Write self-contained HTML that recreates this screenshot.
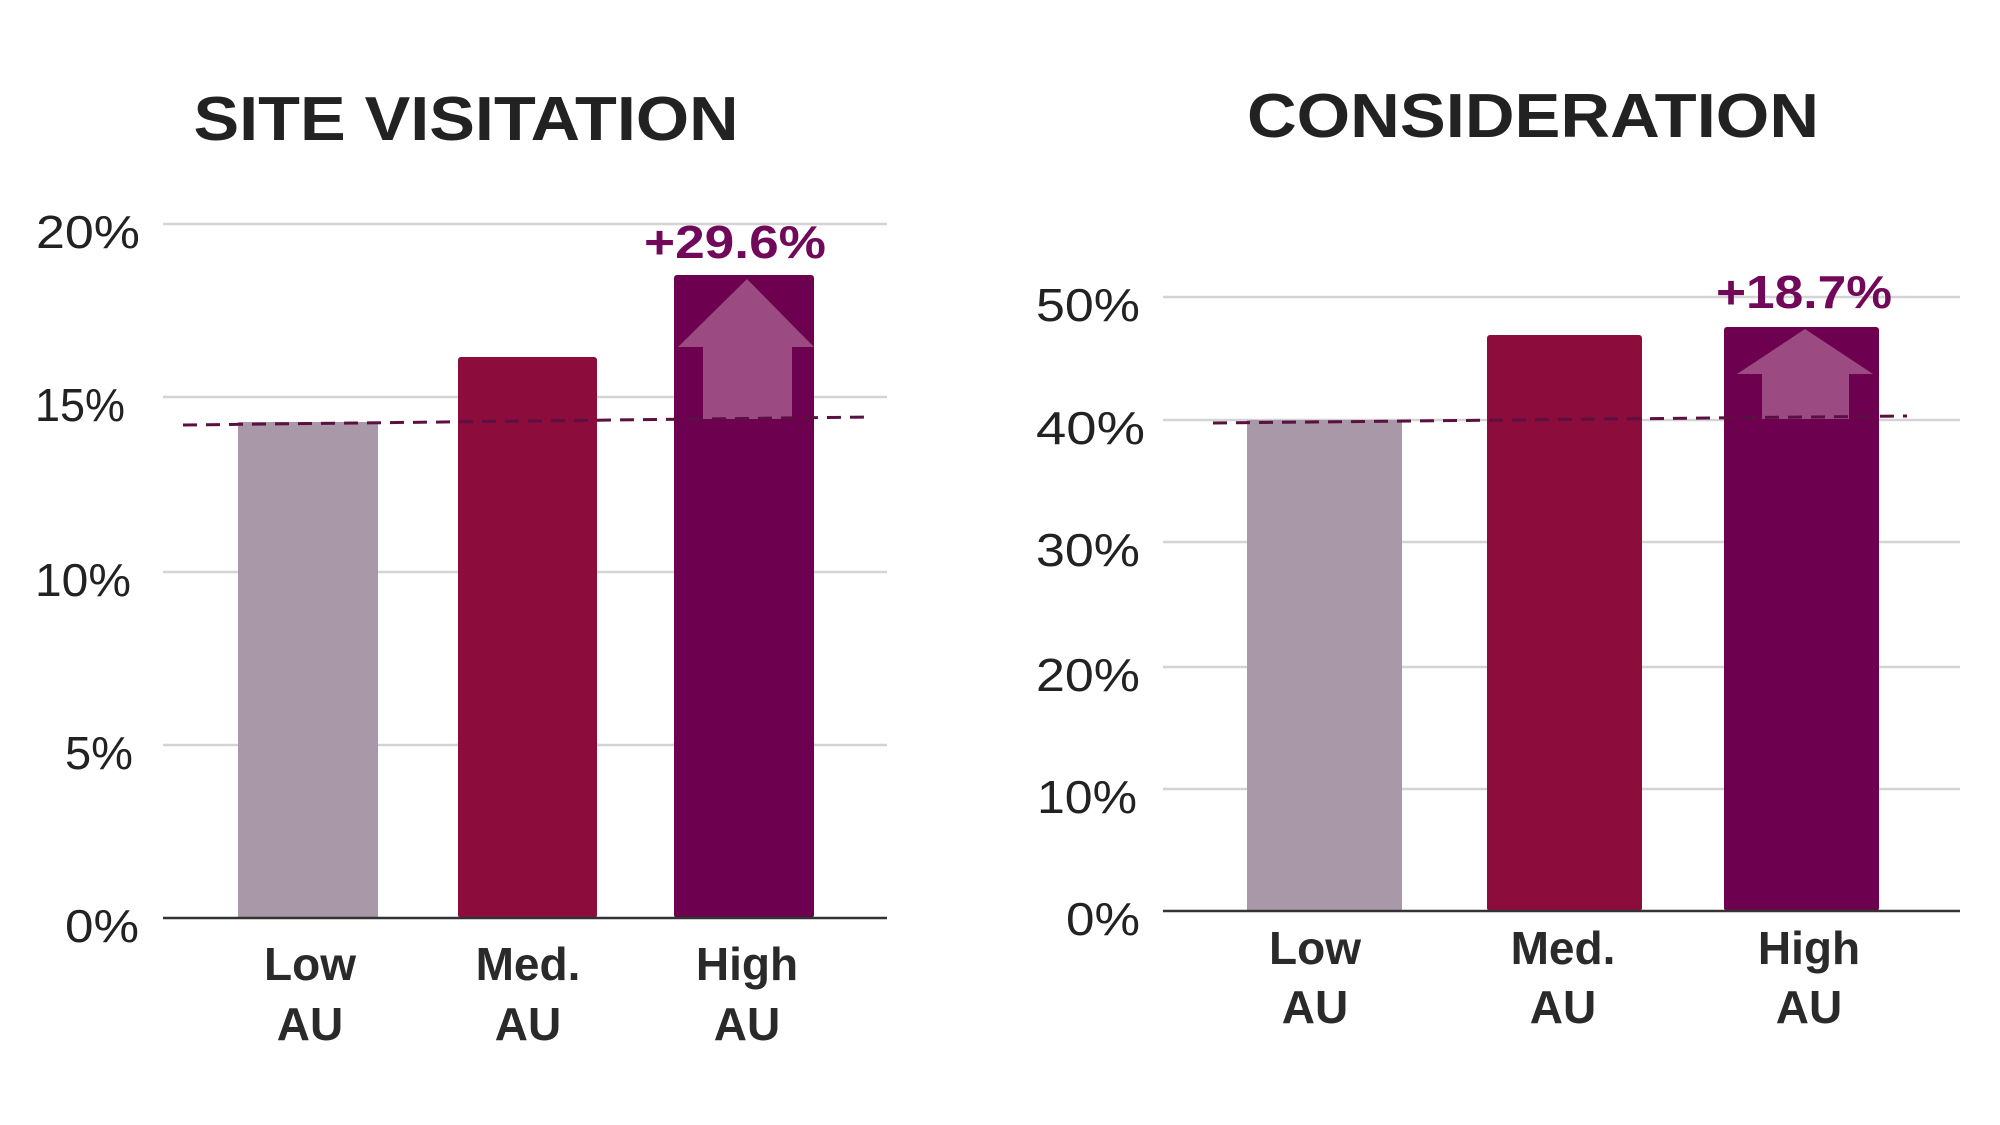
<!DOCTYPE html>
<html><head><meta charset="utf-8"><style>
html,body{margin:0;padding:0;background:#fff;}
svg{display:block;}
text{font-family:"Liberation Sans",sans-serif;}
</style></head><body>
<svg width="2000" height="1125" viewBox="0 0 2000 1125" xmlns="http://www.w3.org/2000/svg">
<rect width="2000" height="1125" fill="#fff"/>
<!-- LEFT CHART -->
<text x="466" y="140" text-anchor="middle" font-size="62" font-weight="bold" fill="#222" textLength="545" lengthAdjust="spacingAndGlyphs">SITE VISITATION</text>
<g stroke="#d4d4d4" stroke-width="2.5">
<line x1="163" y1="224" x2="887" y2="224"/>
<line x1="163" y1="397" x2="887" y2="397"/>
<line x1="163" y1="572" x2="887" y2="572"/>
<line x1="163" y1="745" x2="887" y2="745"/>
</g>
<g font-size="46" fill="#222" text-anchor="end">
<text x="140" y="248" textLength="104" lengthAdjust="spacingAndGlyphs">20%</text>
<text x="125" y="421" textLength="90" lengthAdjust="spacingAndGlyphs">15%</text>
<text x="131" y="596" textLength="96" lengthAdjust="spacingAndGlyphs">10%</text>
<text x="133" y="769" textLength="68" lengthAdjust="spacingAndGlyphs">5%</text>
<text x="139" y="942" textLength="74" lengthAdjust="spacingAndGlyphs">0%</text>
</g>
<rect x="238" y="422" width="140" height="496" fill="#a998a8"/>
<rect x="458" y="357" width="139" height="561" rx="3" fill="#8c0c3c"/>
<rect x="674" y="275" width="140" height="643" rx="3" fill="#6e0050"/>
<polygon points="747,279 814,347 792,347 792,419 703,419 703,347 678,347" fill="#9b4b82"/>
<line x1="183" y1="425" x2="872" y2="417" stroke="#5a1040" stroke-width="3" stroke-dasharray="14,9"/>
<line x1="163" y1="918" x2="887" y2="918" stroke="#333" stroke-width="2.5"/>
<text x="735" y="258" text-anchor="middle" font-size="46" font-weight="bold" fill="#72085a" textLength="182" lengthAdjust="spacingAndGlyphs">+29.6%</text>
<g font-size="46" font-weight="bold" fill="#2a2a2a" text-anchor="middle">
<text x="310" y="980">Low</text><text x="310" y="1040">AU</text>
<text x="528" y="980">Med.</text><text x="528" y="1040">AU</text>
<text x="747" y="980">High</text><text x="747" y="1040">AU</text>
</g>
<!-- RIGHT CHART -->
<text x="1533" y="137" text-anchor="middle" font-size="62" font-weight="bold" fill="#222" textLength="572" lengthAdjust="spacingAndGlyphs">CONSIDERATION</text>
<g stroke="#d4d4d4" stroke-width="2.5">
<line x1="1163" y1="297" x2="1960" y2="297"/>
<line x1="1163" y1="420" x2="1960" y2="420"/>
<line x1="1163" y1="542" x2="1960" y2="542"/>
<line x1="1163" y1="667" x2="1960" y2="667"/>
<line x1="1163" y1="789" x2="1960" y2="789"/>
</g>
<g font-size="46" fill="#222" text-anchor="end">
<text x="1140" y="321" textLength="104" lengthAdjust="spacingAndGlyphs">50%</text>
<text x="1145" y="444" textLength="109" lengthAdjust="spacingAndGlyphs">40%</text>
<text x="1140" y="566" textLength="104" lengthAdjust="spacingAndGlyphs">30%</text>
<text x="1140" y="691" textLength="104" lengthAdjust="spacingAndGlyphs">20%</text>
<text x="1137" y="813" textLength="100" lengthAdjust="spacingAndGlyphs">10%</text>
<text x="1140" y="935" textLength="74" lengthAdjust="spacingAndGlyphs">0%</text>
</g>
<rect x="1247" y="420" width="155" height="491" fill="#a998a8"/>
<rect x="1487" y="335" width="155" height="576" rx="3" fill="#8c0c3c"/>
<rect x="1724" y="327" width="155" height="584" rx="3" fill="#6e0050"/>
<polygon points="1805,329 1873,374 1849,374 1849,419 1762,419 1762,374 1737,374" fill="#9b4b82"/>
<line x1="1213" y1="423" x2="1907" y2="416" stroke="#5a1040" stroke-width="3" stroke-dasharray="14,9"/>
<line x1="1163" y1="911" x2="1960" y2="911" stroke="#333" stroke-width="2.5"/>
<text x="1804" y="308" text-anchor="middle" font-size="46" font-weight="bold" fill="#72085a" textLength="176" lengthAdjust="spacingAndGlyphs">+18.7%</text>
<g font-size="46" font-weight="bold" fill="#2a2a2a" text-anchor="middle">
<text x="1315" y="964">Low</text><text x="1315" y="1023">AU</text>
<text x="1563" y="964">Med.</text><text x="1563" y="1023">AU</text>
<text x="1809" y="964">High</text><text x="1809" y="1023">AU</text>
</g>
</svg>
</body></html>
